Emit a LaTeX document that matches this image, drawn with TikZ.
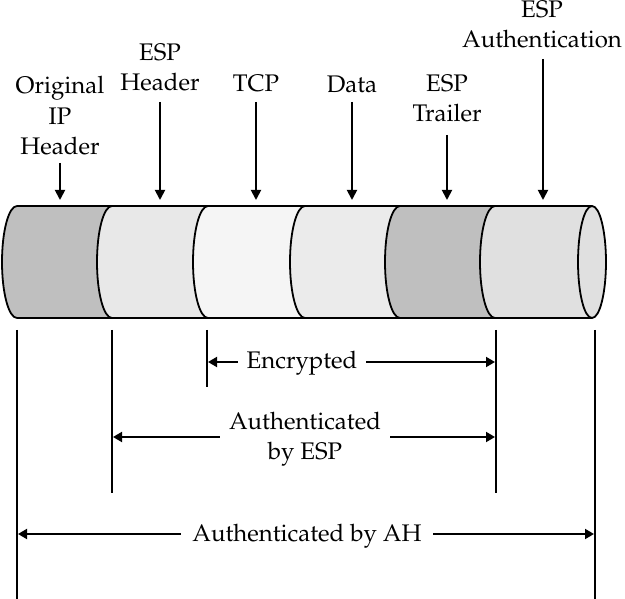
\documentclass[tikz,border=0pt]{standalone}
\usepackage[T1]{fontenc}
\renewcommand{\rmdefault}{ppl}
\usetikzlibrary{arrows.meta}
\begin{document}
\begin{tikzpicture}[x=1pt,y=-1pt,line width=1.8pt,
  lbl/.style={font=\fontsize{24}{30.5}\selectfont,align=center,inner sep=0pt},
  tip/.style={-{Triangle[length=10pt,width=10pt]}},
  both/.style={{Triangle[length=9pt,width=10pt]}-{Triangle[length=9pt,width=10pt]}},
  gapped/.style={lbl,fill=white,inner xsep=9pt,inner ysep=0pt},
  segA/.style={fill=gray!50!white},
  segB/.style={fill=black!9},
  segC/.style={fill=black!4},
  segD/.style={fill=black!8},
  segE/.style={fill=black!12},
]
\useasboundingbox (0,0) rectangle (625,599);
% cylinder segments (fills)
\def\ya{206}\def\yb{318}
\foreach \xl/\xr/\c in {17/112/75, 112/208/91, 208/305/96, 305/400/92, 400/495/75, 495/592/88}{
  \fill[black!\the\numexpr100-\c\relax] (\xl,\ya) -- (\xr,\ya) arc[start angle=270,end angle=90,x radius=15,y radius=56]
     -- (\xl,\yb) arc[start angle=90,end angle=270,x radius=15,y radius=56] -- cycle;
}
% outlines
\draw (17,\ya) -- (592,\ya);
\draw (17,\yb) -- (592,\yb);
\foreach \x in {17,112,208,305,400,495}{
  \draw (\x,\ya) arc[start angle=270,end angle=90,x radius=15,y radius=56];
}
\draw[fill=black!12] (592,262) ellipse[x radius=14,y radius=56];

% top labels
\node[lbl,anchor=south] (oip) at (60,156) {Original\\IP\\Header};
\node[lbl,anchor=south] (esph) at (160,92) {ESP\\Header};
\node[lbl,anchor=south] (tcp) at (256,93) {TCP};
\node[lbl,anchor=south] (data) at (352,93) {Data};
\node[lbl,anchor=south] (espt) at (447,123) {ESP\\Trailer};
\node[lbl,anchor=south] (espa) at (542,49) {ESP\\Authentication};
\coordinate (toip) at (60,200);
\coordinate (tesph) at (160,200);
\coordinate (ttcp) at (256,200);
\coordinate (tdata) at (352,200);
\coordinate (tespt) at (447,200);
\coordinate (tespa) at (543,200);
\draw[tip,shorten <=7pt] (oip.south) -- (toip);
\draw[tip,shorten <=10pt] (esph.south) -- (tesph);
\draw[tip,shorten <=9pt] (tcp.south) -- (ttcp);
\draw[tip,shorten <=9pt] (data.south) -- (tdata);
\draw[tip,shorten <=12pt] (espt.south) -- (tespt);
\draw[tip,shorten <=10pt] (espa.south -| tespa) -- (tespa);

% vertical extent lines
\coordinate (v1t) at (17,330);  \coordinate (v1b) at (17,601);
\coordinate (v2t) at (112,330); \coordinate (v2b) at (112,493);
\coordinate (v3t) at (207,330); \coordinate (v3b) at (207,387);
\coordinate (v4t) at (496,330); \coordinate (v4b) at (496,493);
\coordinate (v5t) at (595,330); \coordinate (v5b) at (595,601);
\draw (v1t) -- (v1b);
\draw (v2t) -- (v2b);
\draw (v3t) -- (v3b);
\draw (v4t) -- (v4b);
\draw (v5t) -- (v5b);

% range arrows
\coordinate (encL) at (208,362); \coordinate (encR) at (495,362);
\draw[both] (encL) -- (encR);
\node[gapped,anchor=base] (enc) at (302,369) {Encrypted};

\coordinate (espL) at (113,437); \coordinate (espR) at (495,437);
\draw[both] (espL) -- (espR);
\node[gapped] (aesp) at (305,439) {Authenticated\\by ESP};

\coordinate (ahL) at (18,534); \coordinate (ahR) at (594,534);
\draw[both] (ahL) -- (ahR);
\node[gapped,inner xsep=11pt,anchor=base] (aah) at (307,541) {Authenticated by AH};
\end{tikzpicture}
\end{document}
